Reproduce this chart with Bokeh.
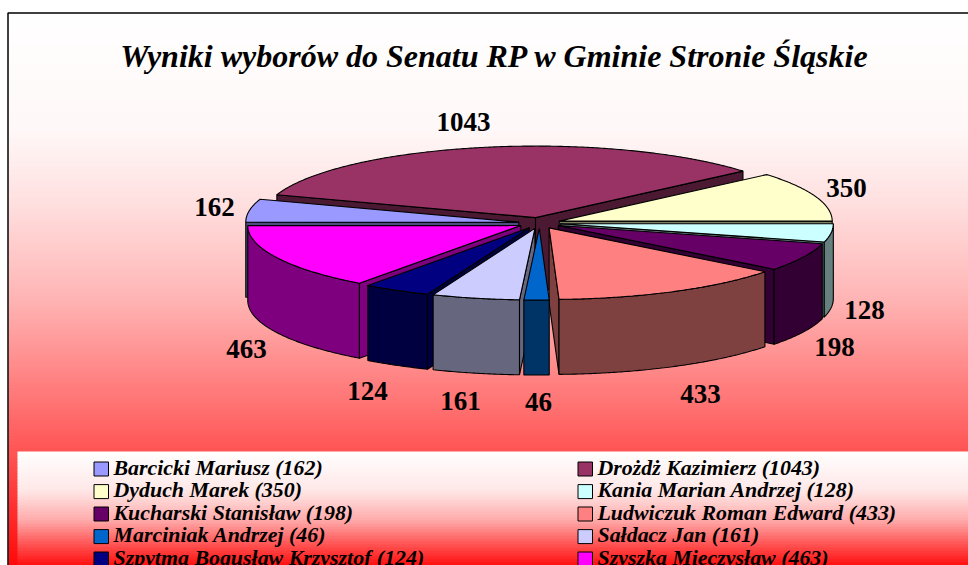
import numpy as np
from bokeh.plotting import figure
from bokeh.core.properties import value
from bokeh.embed import file_html
from bokeh.resources import INLINE

title = "Wyniki wyborów do Senatu RP w Gminie Stronie Śląskie"
names = ["Barcicki Mariusz", "Drożdż Kazimierz", "Dyduch Marek", "Kania Marian Andrzej",
         "Kucharski Stanisław", "Ludwiczuk Roman Edward", "Marciniak Andrzej", "Sałdacz Jan",
         "Szpytma Bogusław Krzysztof", "Szyszka Mieczysław"]
votes = [162, 1043, 350, 128, 198, 433, 46, 161, 124, 463]
colors = ["#9999FF", "#993366", "#FFFFCC", "#CCFFFF", "#660066",
          "#FF8080", "#0066CC", "#CCCCFF", "#000080", "#FF00FF"]
label_x = [214, 463, 846, 864, 834, 700, 538, 460, 367, 246]
label_y = [206, 121, 187, 309, 346, 393, 401, 400, 390, 348]

FONT = "Liberation Serif"
W, H = 968, 565
p = figure(width=W, height=H, x_range=(0, W), y_range=(H, 0), output_backend="svg",
           toolbar_location=None, min_border=0, outline_line_color=None)
p.axis.visible = False
p.grid.visible = False
p.background_fill_color = "white"
p.border_fill_color = "white"


def bands(x0, x1, y0, y1, stops_y, stops_g, step=3):
    ys = np.arange(y0, y1, step)
    g = np.interp(ys + step / 2, stops_y, stops_g).astype(int)
    cols = ["#%02X%02X%02X" % (255, v, v) for v in g]
    p.quad(left=x0, right=x1, top=ys, bottom=ys + step + 0.5, fill_color=cols, line_color=None)


bands(8, W, 13, H, [12, 130, 200, 300, 380, 451, 565], [255, 248, 225, 180, 130, 85, 10])
bands(17, W, 451, H, [451, 490, 520, 545, 565], [255, 232, 170, 80, 15])
p.line([7.5, 7.5, W], [H, 12.5, 12.5], line_color="black", line_width=1.5)

# exploded 3-D pie
CX, CY, RX, KY, DEPTH, EXPLODE = 539.0, 222.5, 273.0, 0.262, 75.0, 21.0
total = sum(votes)
start = 360.0 * (votes[0] + votes[1] + votes[2]) / total


def dark(c):
    r, g, b = int(c[1:3], 16), int(c[3:5], 16), int(c[5:7], 16)
    return "#%02X%02X%02X" % (r // 2, g // 2, b // 2)


slices = []
a = start
for v, c in zip(votes, colors):
    b = a - 360.0 * v / total
    slices.append((a, b, c))
    a = b


def xy(ax, ay, deg):
    t = np.radians(deg)
    return ax + RX * np.cos(t), ay - RX * KY * np.sin(t)


def wall(xs, ys, col):
    xs, ys = np.asarray(xs), np.asarray(ys)
    px = np.r_[xs, xs[::-1]]
    py = np.r_[ys, (ys + DEPTH)[::-1]]
    p.patch(px, py, fill_color=col, line_color="black", line_width=1.1)


order = sorted(slices, key=lambda s: -np.sin(np.radians((s[0] + s[1]) / 2)))
for hi, lo, col in order:
    mid = np.radians((hi + lo) / 2)
    ax = CX + EXPLODE * np.cos(mid)
    ay = CY - EXPLODE * KY * np.sin(mid)
    side = dark(col)
    # radial walls facing the viewer
    if np.cos(np.radians(hi)) < 0:
        x1, y1 = xy(ax, ay, hi)
        wall([ax, x1], [ay, y1], side)
    if -np.cos(np.radians(lo)) < 0:
        x1, y1 = xy(ax, ay, lo)
        wall([ax, x1], [ay, y1], side)
    deg = np.linspace(lo, hi, max(int(hi - lo) * 2, 4))
    # outer rim
    front = deg[np.sin(np.radians(deg)) <= 0.0005]
    if len(front) > 1:
        rx, ry = xy(ax, ay, front)
        wall(rx, ry, side)
    tx, ty = xy(ax, ay, deg)
    p.patch(np.r_[ax, tx], np.r_[ay, ty], fill_color=col, line_color="black", line_width=1.1)

# texts
p.text([494], [55.5], text=[title], text_font=value(FONT), text_font_style="bold italic",
       text_font_size="32px", text_align="center", text_baseline="middle", text_color="black")
p.text(label_x, label_y, text=[str(v) for v in votes], text_font=value(FONT),
       text_font_style="bold", text_font_size="27px", text_align="center",
       text_baseline="middle", text_color="black")

# legend (two columns, filled row by row)
col_x = [93, 577]
row_y = [461, 483.6, 506, 528.6, 551]
for i, (n, v, c) in enumerate(zip(names, votes, colors)):
    sx = col_x[i % 2]
    sy = row_y[i // 2]
    p.quad(left=[sx + 0.5], right=[sx + 15], top=[sy + 0.5], bottom=[sy + 14.5],
           fill_color=c, line_color="black", line_width=1)
    p.text([sx + 20], [sy + 5.5], text=[f"{n} ({v})"], text_font=value(FONT),
           text_font_style="bold italic", text_font_size="21.9px", text_align="left",
           text_baseline="middle", text_color="black")

open("out.html", "w").write(file_html(p, INLINE))
